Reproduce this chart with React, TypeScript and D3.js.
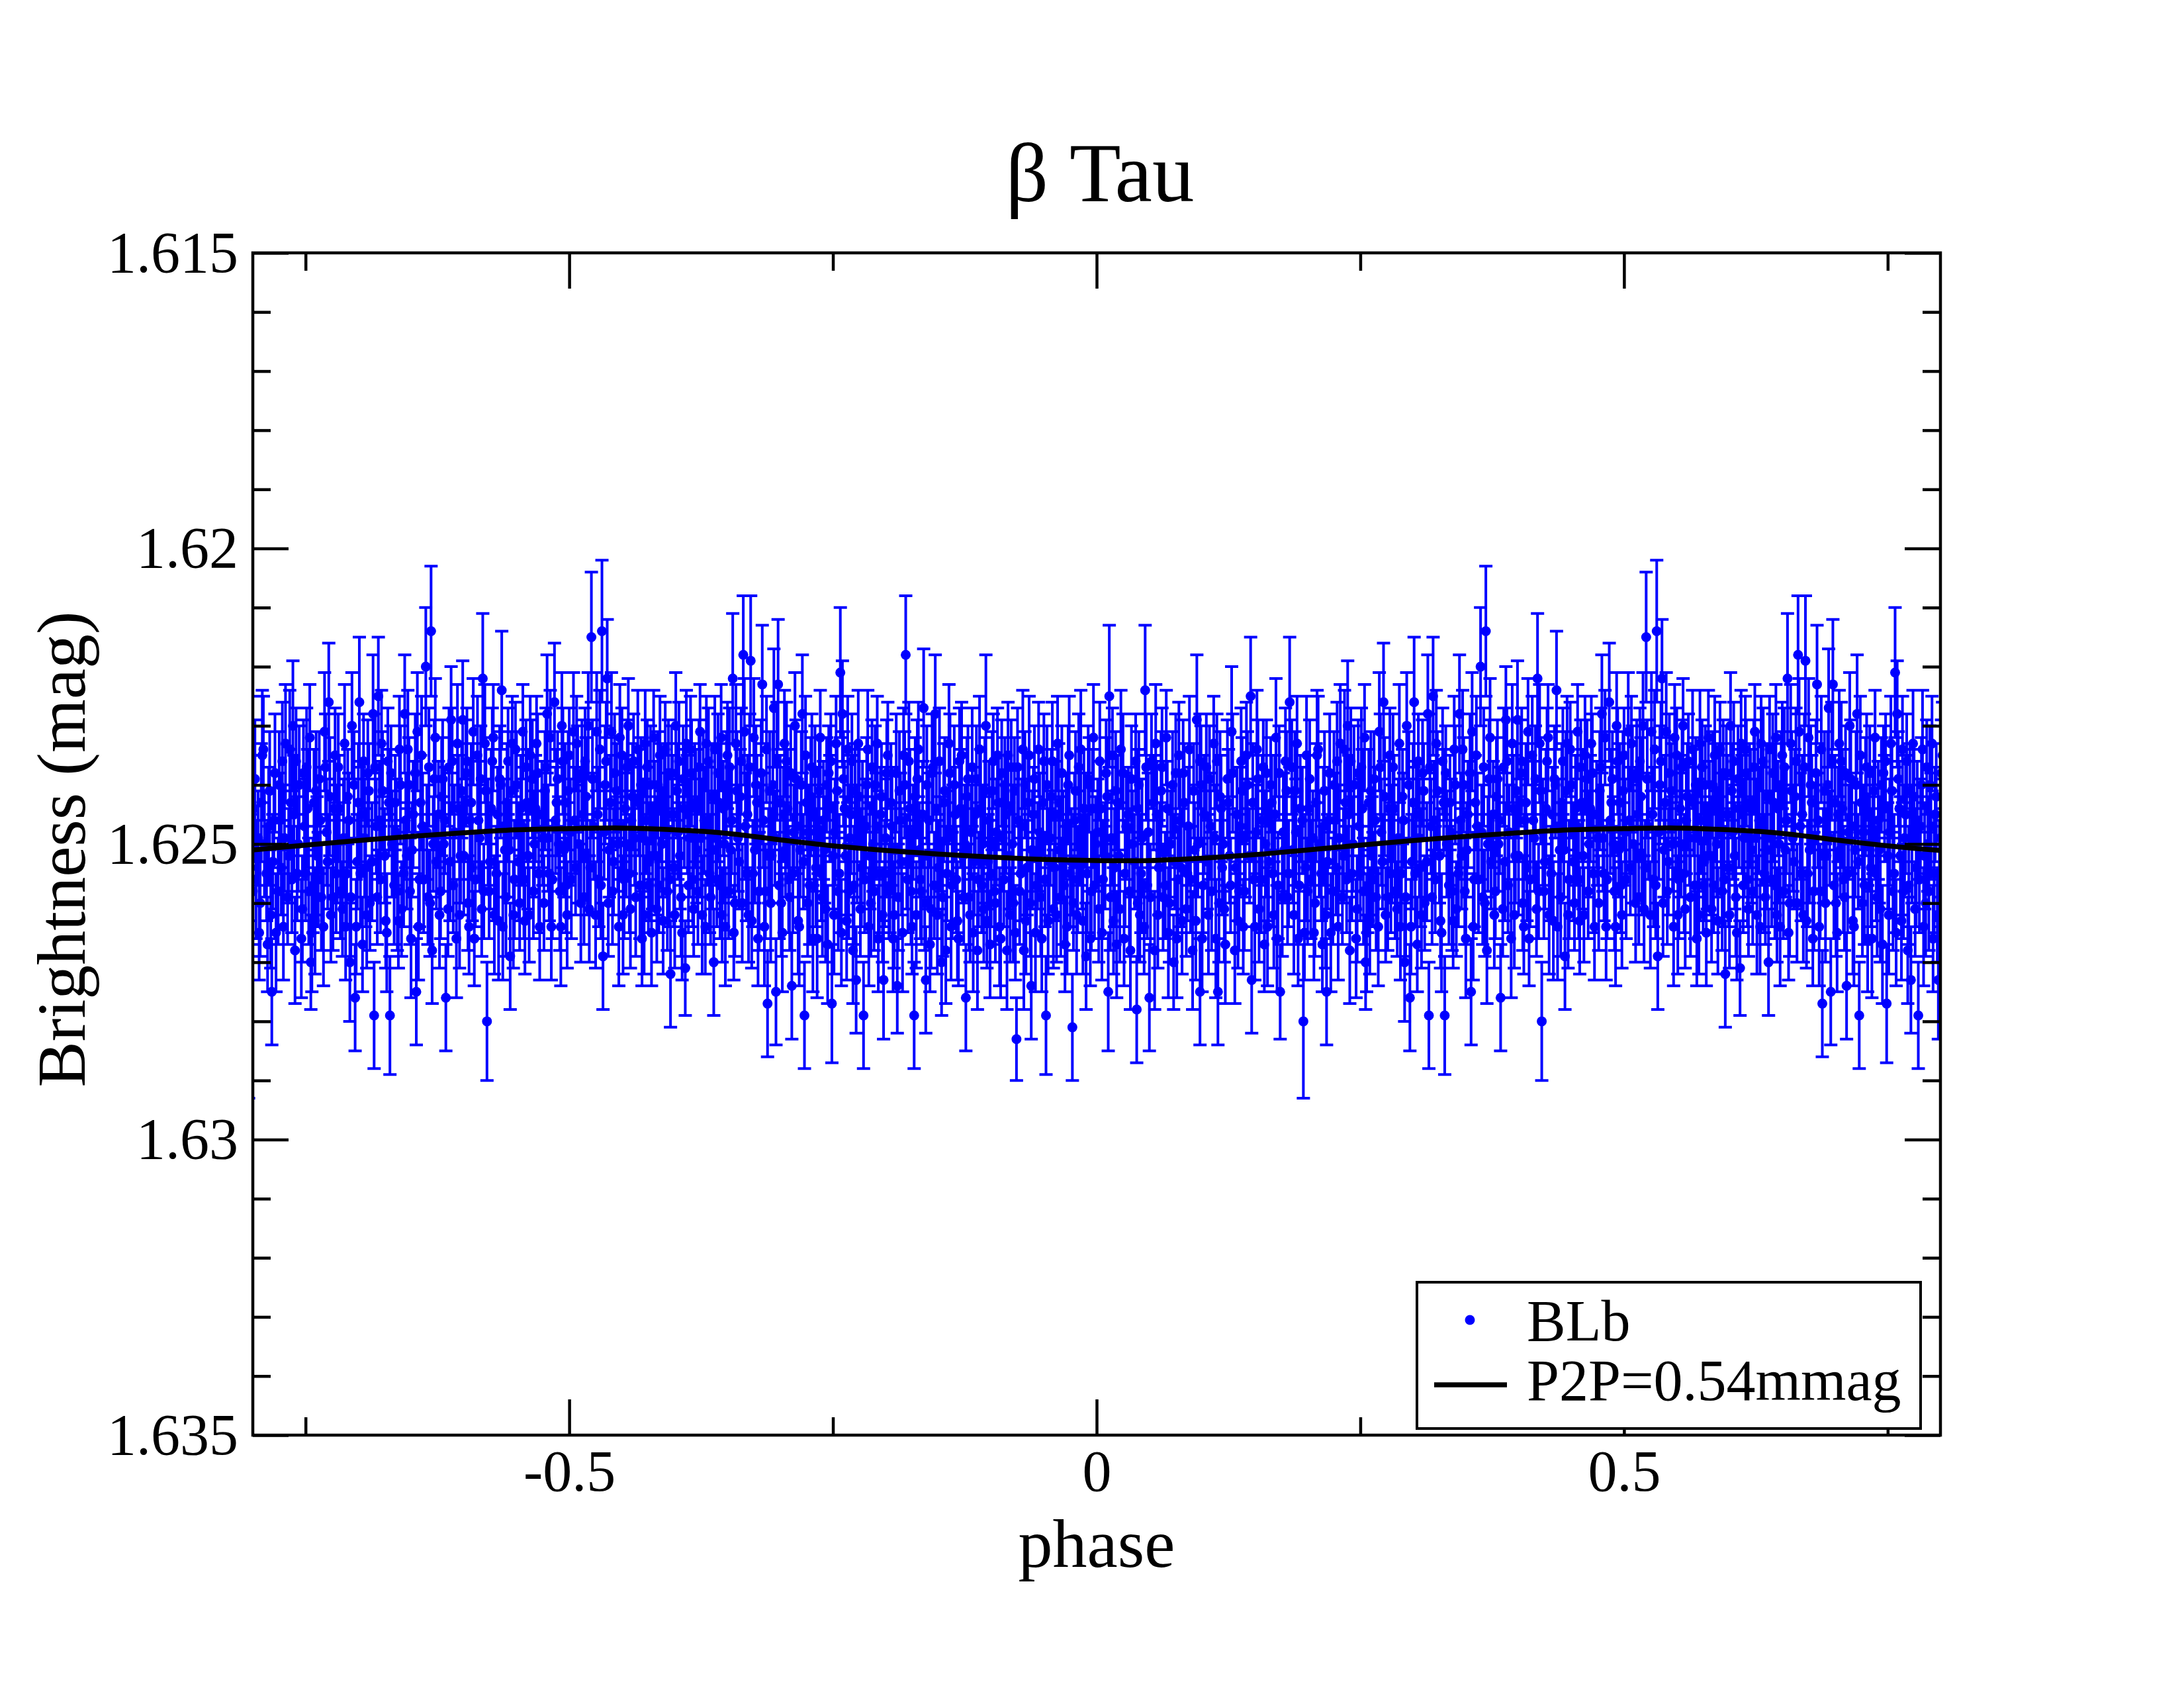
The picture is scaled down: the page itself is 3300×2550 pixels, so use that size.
import React, { useEffect, useRef } from "react";
import * as d3 from "d3";

const title = "β Tau";
const xLabel = "phase";
const yLabel = "Brightness (mag)";
const legendLabels = ["BLb", "P2P=0.54mmag"];

const xMajorTicks = [-0.5, 0, 0.5];
const xMajorLabels = ["-0.5", "0", "0.5"];
const xMinorTicks = [-0.75, -0.25, 0.25, 0.75];
const yMajorTicks = [1.615, 1.62, 1.625, 1.63, 1.635];
const yMajorLabels = ["1.615", "1.62", "1.625", "1.63", "1.635"];
const yMinorTicks = [
  1.616, 1.617, 1.618, 1.619, 1.621, 1.622, 1.623, 1.624, 1.626, 1.627, 1.628,
  1.629, 1.631, 1.632, 1.633, 1.634,
];

// fitted light curve over one cycle
const fitPhase = [
  0, 0.05, 0.1, 0.15, 0.2, 0.25, 0.3, 0.35, 0.4, 0.45, 0.5, 0.55, 0.6, 0.65,
  0.7, 0.75, 0.8, 0.85, 0.9, 0.95, 1.0,
];
const fitMag = [
  1.62528, 1.62528, 1.62524, 1.62518, 1.6251, 1.62502, 1.62494, 1.62487,
  1.62481, 1.62476, 1.62474, 1.62473, 1.62476, 1.62482, 1.62493, 1.62503,
  1.62511, 1.62517, 1.62522, 1.62526, 1.62528,
];

// BLb observations: [phase, magnitude, error in mmag]
const blbSet1: [number, number, number][] = [
  [0.002,1.6261,0.9],[0.004,1.6244,0.8],[0.006,1.6256,1.0],[0.009,1.6238,0.9],[0.011,1.6275,1.0],[0.012,1.6225,1.2],[0.014,1.6249,0.8],[0.016,1.6263,0.9],[0.018,1.6241,1.0],
  [0.021,1.6252,0.9],[0.023,1.6234,1.0],[0.026,1.6266,0.8],[0.028,1.6247,0.9],[0.031,1.6258,1.1],[0.033,1.6239,0.9],[0.036,1.6253,0.8],[0.038,1.6278,0.9],[0.039,1.6244,1.0],
  [0.041,1.6262,0.8],[0.043,1.6249,1.0],[0.046,1.6224,1.1],[0.048,1.6257,0.9],[0.050,1.6276,0.9],[0.052,1.6236,0.8],[0.055,1.6268,1.0],[0.057,1.6245,0.9],[0.059,1.6254,0.8],
  [0.061,1.6241,1.0],[0.063,1.6259,0.9],[0.066,1.6232,0.8],[0.068,1.6265,1.1],[0.070,1.6250,0.9],[0.073,1.6270,0.8],[0.075,1.6238,1.0],[0.077,1.6256,0.9],[0.079,1.6246,0.8],
  [0.081,1.6263,0.9],[0.083,1.6243,1.0],[0.086,1.6255,0.8],[0.088,1.6234,0.9],[0.091,1.6268,1.0],[0.093,1.6251,0.8],[0.095,1.6229,1.1],[0.098,1.6275,0.9],[0.099,1.6240,1.0],
  [0.101,1.6257,0.8],[0.104,1.6237,0.9],[0.106,1.6262,1.0],[0.108,1.6247,0.9],[0.111,1.6233,0.8],[0.113,1.6266,1.0],[0.115,1.6275,0.9],[0.117,1.6242,1.1],[0.119,1.6254,0.8],
  [0.121,1.6261,0.9],[0.124,1.6239,1.0],[0.126,1.6252,0.8],[0.128,1.6231,1.1],[0.131,1.6268,0.9],[0.133,1.6245,0.8],[0.135,1.6258,1.0],[0.137,1.6236,0.9],[0.139,1.6264,0.8],
  [0.141,1.6249,1.0],[0.143,1.6240,0.9],[0.146,1.6225,1.0],[0.147,1.6273,0.9],[0.149,1.6256,0.8],[0.152,1.6234,1.0],[0.154,1.6261,0.9],[0.157,1.6246,1.1],[0.159,1.6267,0.8],
  [0.161,1.6238,0.9],[0.163,1.6253,1.0],[0.166,1.6243,0.8],[0.168,1.6262,0.9],[0.170,1.6232,1.0],[0.172,1.6257,0.9],[0.174,1.6275,0.8],[0.177,1.6248,1.0],[0.179,1.6236,0.9],
  [0.181,1.6259,0.8],[0.183,1.6226,1.1],[0.186,1.6251,0.9],[0.188,1.6241,1.0],[0.191,1.6266,0.8],[0.193,1.6244,0.9],[0.196,1.6280,1.3],[0.198,1.6254,0.9],[0.199,1.6235,1.0],
  [0.201,1.6244,0.9],[0.203,1.6256,1.0],[0.206,1.6265,0.8],[0.209,1.6235,1.1],[0.211,1.6250,0.9],[0.214,1.6267,0.8],[0.216,1.6241,1.0],[0.218,1.6275,0.9],[0.219,1.6253,0.8],
  [0.221,1.6238,1.0],[0.224,1.6258,0.9],[0.226,1.6246,0.8],[0.229,1.6264,0.9],[0.231,1.6233,1.0],[0.234,1.6252,0.8],[0.236,1.6243,0.9],[0.238,1.6230,1.1],[0.240,1.6268,0.9],
  [0.242,1.6255,0.8],[0.244,1.6240,1.0],[0.247,1.6261,0.9],[0.249,1.6247,0.8],[0.251,1.6237,1.0],[0.253,1.6258,0.9],[0.255,1.6270,0.8],[0.256,1.6265,1.0],[0.258,1.6243,0.9],
  [0.261,1.6252,1.0],[0.263,1.6239,0.8],[0.265,1.6259,0.9],[0.268,1.6231,1.0],[0.270,1.6248,0.9],[0.272,1.6226,1.0],[0.274,1.6262,0.8],[0.277,1.6244,0.9],[0.279,1.6255,1.0],
  [0.281,1.6237,0.9],[0.283,1.6258,0.8],[0.286,1.6249,1.0],[0.288,1.6264,0.9],[0.290,1.6242,0.8],[0.292,1.6270,1.0],[0.294,1.6230,0.9],[0.297,1.6276,0.9],[0.299,1.6253,0.8],
  [0.301,1.6226,1.1],[0.303,1.6245,0.9],[0.304,1.6267,0.8],[0.307,1.6254,1.0],[0.309,1.6238,0.9],[0.311,1.6260,0.8],[0.314,1.6228,1.0],[0.315,1.6279,0.9],[0.317,1.6247,0.8],[0.319,1.6225,1.0],
  [0.321,1.6256,0.9],[0.323,1.6241,1.0],[0.326,1.6263,0.8],[0.328,1.6236,0.9],[0.330,1.6279,1.0],[0.332,1.6250,0.9],[0.335,1.6243,0.8],[0.337,1.6258,1.0],[0.339,1.6234,0.9],
  [0.341,1.6261,0.8],[0.344,1.6228,1.0],[0.346,1.6252,0.9],[0.348,1.6240,0.8],[0.350,1.6266,1.0],[0.352,1.6245,0.9],[0.355,1.6275,0.9],[0.356,1.6231,1.0],[0.358,1.6256,0.8],
  [0.361,1.6247,0.9],[0.364,1.6220,1.0],[0.366,1.6259,0.8],[0.369,1.6214,1.1],[0.370,1.6268,0.9],[0.372,1.6239,1.0],[0.374,1.6253,0.8],[0.377,1.6262,0.9],[0.379,1.6242,1.0],
  [0.381,1.6250,0.8],[0.383,1.6276,0.9],[0.386,1.6237,1.0],[0.388,1.6229,0.9],[0.390,1.6257,0.8],[0.393,1.6266,1.0],[0.395,1.6244,0.9],[0.397,1.6252,0.8],[0.399,1.6229,1.0],
  [0.402,1.6238,0.9],[0.404,1.6260,0.8],[0.406,1.6246,1.0],[0.408,1.6254,0.9],[0.410,1.6266,0.8],[0.413,1.6235,1.0],[0.415,1.6249,0.9],[0.418,1.6222,1.1],[0.419,1.6258,0.8],
  [0.421,1.6241,0.9],[0.422,1.6280,1.0],[0.425,1.6253,0.8],[0.427,1.6236,0.9],[0.429,1.6262,1.0],[0.432,1.6245,0.8],[0.434,1.6239,0.9],[0.436,1.6224,1.0],[0.437,1.6264,0.9],[0.439,1.6251,0.8],
  [0.441,1.6243,1.0],[0.444,1.6269,0.9],[0.446,1.6233,0.8],[0.448,1.6256,1.0],[0.450,1.6240,0.9],[0.453,1.6260,0.8],[0.455,1.6247,1.0],[0.458,1.6263,0.9],[0.459,1.6237,0.8],
  [0.461,1.6252,0.9],[0.463,1.6235,1.0],[0.466,1.6258,0.8],[0.468,1.6244,0.9],[0.470,1.6238,1.0],[0.472,1.6264,0.9],[0.475,1.6249,0.8],[0.477,1.6241,1.0],[0.479,1.6228,1.0],
  [0.481,1.6255,0.8],[0.483,1.6264,0.9],[0.486,1.6226,1.0],[0.488,1.6243,0.9],[0.490,1.6250,0.8],[0.492,1.6264,1.0],[0.494,1.6236,0.9],[0.497,1.6257,0.8],[0.499,1.6241,1.0],
  [0.501,1.6248,0.9],[0.504,1.6231,1.0],[0.506,1.6254,0.8],[0.508,1.6239,0.9],[0.511,1.6260,1.0],[0.513,1.6245,0.8],[0.515,1.6236,0.9],[0.517,1.6252,1.0],[0.519,1.6261,0.9],
  [0.521,1.6215,1.1],[0.523,1.6247,0.9],[0.526,1.6231,1.0],[0.528,1.6256,0.8],[0.531,1.6214,1.2],[0.532,1.6269,0.9],[0.534,1.6240,1.0],[0.536,1.6222,1.0],[0.538,1.6251,0.8],
  [0.541,1.6258,0.9],[0.543,1.6238,1.0],[0.546,1.6250,0.8],[0.548,1.6232,0.9],[0.551,1.6262,1.0],[0.553,1.6244,0.9],[0.555,1.6237,0.8],[0.557,1.6255,1.0],[0.559,1.6246,0.9],
  [0.561,1.6236,0.8],[0.563,1.6259,1.0],[0.566,1.6243,0.9],[0.569,1.6266,0.8],[0.570,1.6249,1.0],[0.572,1.6233,0.9],[0.575,1.6257,0.8],[0.577,1.6240,1.0],[0.579,1.6252,0.9],
  [0.581,1.6244,0.8],[0.583,1.6261,0.9],[0.586,1.6235,1.0],[0.588,1.6250,0.9],[0.590,1.6241,0.8],[0.593,1.6258,1.0],[0.596,1.6272,0.9],[0.597,1.6238,0.8],[0.599,1.6254,1.0],
  [0.601,1.6230,0.9],[0.603,1.6248,0.8],[0.606,1.6259,1.0],[0.608,1.6239,0.9],[0.610,1.6271,0.8],[0.612,1.6245,1.0],[0.615,1.6234,0.9],[0.617,1.6256,0.8],[0.619,1.6243,1.0],
  [0.621,1.6251,0.9],[0.623,1.6237,0.8],[0.626,1.6262,1.0],[0.628,1.6246,0.9],[0.630,1.6233,0.8],[0.633,1.6255,1.0],[0.635,1.6242,0.9],[0.637,1.6270,0.9],[0.639,1.6249,0.8],
  [0.641,1.6238,1.0],[0.643,1.6257,0.9],[0.646,1.6244,0.8],[0.648,1.6264,1.0],[0.650,1.6235,0.9],[0.653,1.6251,0.8],[0.655,1.6222,1.1],[0.657,1.6260,0.9],[0.659,1.6241,1.0],
  [0.661,1.6253,0.8],[0.663,1.6236,0.9],[0.665,1.6218,1.0],[0.667,1.6247,0.9],[0.670,1.6262,0.8],[0.672,1.6219,1.1],[0.674,1.6255,0.9],[0.677,1.6240,1.0],[0.679,1.6266,0.8],
  [0.681,1.6249,0.9],[0.683,1.6223,1.0],[0.686,1.6258,0.8],[0.688,1.6277,0.9],[0.690,1.6241,1.0],[0.692,1.6252,0.8],[0.694,1.6227,1.0],[0.696,1.6275,0.9],[0.698,1.6223,1.1],
  [0.701,1.6260,0.9],[0.703,1.6245,0.8],[0.706,1.6236,1.0],[0.708,1.6256,0.9],[0.711,1.6274,0.9],[0.713,1.6248,0.8],[0.715,1.6239,1.0],[0.717,1.6263,0.9],[0.719,1.6251,0.8],
  [0.721,1.6228,1.0],[0.723,1.6279,0.9],[0.725,1.6243,0.8],[0.728,1.6257,1.0],[0.730,1.6237,0.9],[0.732,1.6250,0.8],[0.735,1.6266,1.0],[0.737,1.6241,0.9],[0.739,1.6255,0.8],
  [0.741,1.6246,1.0],[0.743,1.6261,0.9],[0.746,1.6238,0.8],[0.749,1.6277,1.0],[0.750,1.6252,0.9],[0.753,1.6233,0.8],[0.755,1.6258,1.0],[0.757,1.6221,1.1],[0.759,1.6228,0.9],
  [0.761,1.6244,0.8],[0.763,1.6263,1.0],[0.766,1.6249,0.9],[0.768,1.6236,0.8],[0.770,1.6257,1.0],[0.772,1.6273,0.9],[0.775,1.6242,0.8],[0.777,1.6254,1.0],[0.779,1.6279,0.9],
  [0.781,1.6247,0.8],[0.783,1.6234,1.0],[0.786,1.6260,0.9],[0.788,1.6250,0.8],[0.790,1.6240,1.0],[0.793,1.6266,0.9],[0.795,1.6245,0.8],[0.798,1.6273,1.0],[0.799,1.6255,0.9],
  [0.801,1.6238,0.9],[0.803,1.6258,0.8],[0.806,1.6247,1.0],[0.808,1.6262,0.9],[0.811,1.6274,0.8],[0.813,1.6241,1.0],[0.815,1.6253,0.9],[0.817,1.6235,0.8],[0.819,1.6218,1.0],
  [0.821,1.6256,0.9],[0.823,1.6244,1.0],[0.825,1.6264,0.8],[0.827,1.6279,0.9],[0.830,1.6239,1.0],[0.832,1.6251,0.8],[0.834,1.6258,0.9],[0.836,1.6227,1.0],[0.838,1.6273,0.9],
  [0.841,1.6246,0.8],[0.843,1.6261,1.0],[0.845,1.6237,0.9],[0.847,1.6228,1.0],[0.850,1.6254,0.8],[0.853,1.6270,0.9],[0.855,1.6243,1.0],[0.857,1.6268,0.9],[0.859,1.6249,0.8],
  [0.861,1.6238,1.0],[0.863,1.6257,0.9],[0.866,1.6245,0.8],[0.868,1.6263,1.0],[0.870,1.6236,0.9],[0.873,1.6252,0.8],[0.876,1.6276,0.9],[0.877,1.6242,1.0],[0.879,1.6259,0.9],
  [0.881,1.6248,0.8],[0.883,1.6265,1.0],[0.886,1.6239,0.9],[0.888,1.6256,0.8],[0.890,1.6244,1.0],[0.893,1.6261,0.9],[0.895,1.6230,1.2],[0.897,1.6253,0.8],[0.899,1.6267,0.9],
  [0.901,1.6241,1.0],[0.903,1.6258,0.9],[0.906,1.6235,0.8],[0.908,1.6264,1.0],[0.911,1.6249,0.9],[0.913,1.6240,0.8],[0.915,1.6268,1.0],[0.917,1.6252,0.9],[0.919,1.6237,0.8],
  [0.921,1.6260,1.0],[0.924,1.6283,0.7],[0.926,1.6246,0.9],[0.928,1.6255,0.8],[0.930,1.6234,1.0],[0.933,1.6263,0.9],[0.935,1.6243,0.8],[0.938,1.6274,0.9],[0.939,1.6251,1.0],
  [0.941,1.6239,0.9],[0.943,1.6257,0.8],[0.946,1.6248,1.0],[0.948,1.6266,0.9],[0.950,1.6236,0.8],[0.952,1.6279,1.0],[0.955,1.6253,0.9],[0.957,1.6242,0.8],[0.959,1.6261,1.0],
  [0.961,1.6245,0.9],[0.963,1.6233,0.8],[0.966,1.6259,1.0],[0.968,1.6250,0.9],[0.970,1.6267,0.8],[0.973,1.6240,1.0],[0.975,1.6255,0.9],[0.977,1.6281,0.9],[0.979,1.6246,0.8],
  [0.981,1.6262,1.0],[0.983,1.6237,0.9],[0.986,1.6253,0.8],[0.988,1.6244,1.0],[0.990,1.6269,0.9],[0.993,1.6240,0.8],[0.995,1.6258,1.0],[0.997,1.6232,0.9],[0.999,1.6250,0.8],
];

const blbSet2: [number, number, number][] = [
  [0.001,1.6248,0.9],[0.003,1.6236,1.0],[0.005,1.6265,0.8],[0.008,1.6252,0.9],[0.010,1.6242,1.0],[0.013,1.6259,0.9],[0.015,1.6235,0.8],[0.017,1.6254,1.0],[0.019,1.6267,0.9],
  [0.020,1.6243,0.8],[0.022,1.6261,0.9],[0.025,1.6238,1.0],[0.027,1.6255,0.9],[0.030,1.6245,0.8],[0.032,1.6268,1.0],[0.034,1.6250,0.9],[0.037,1.6236,0.8],[0.039,1.6260,1.0],
  [0.040,1.6240,0.9],[0.042,1.6255,1.0],[0.045,1.6264,0.8],[0.047,1.6237,0.9],[0.049,1.6248,1.0],[0.051,1.6259,0.9],[0.054,1.6243,0.8],[0.056,1.6233,1.0],[0.058,1.6262,0.9],
  [0.060,1.6251,0.8],[0.062,1.6237,1.0],[0.065,1.6257,0.9],[0.067,1.6244,0.8],[0.069,1.6260,1.0],[0.072,1.6240,0.9],[0.074,1.6253,0.8],[0.076,1.6266,1.0],[0.078,1.6235,0.9],
  [0.080,1.6254,1.0],[0.082,1.6238,0.9],[0.085,1.6261,0.8],[0.087,1.6247,1.0],[0.089,1.6256,0.9],[0.092,1.6241,0.8],[0.094,1.6263,1.0],[0.096,1.6250,0.9],[0.098,1.6236,0.8],
  [0.100,1.6266,0.9],[0.102,1.6245,1.0],[0.105,1.6253,0.8],[0.107,1.6239,0.9],[0.109,1.6258,1.0],[0.112,1.6249,0.9],[0.114,1.6236,0.8],[0.116,1.6260,1.0],[0.118,1.6244,0.9],
  [0.120,1.6250,0.8],[0.122,1.6267,1.0],[0.125,1.6243,0.9],[0.127,1.6257,0.8],[0.129,1.6238,1.0],[0.132,1.6254,0.9],[0.134,1.6263,0.8],[0.136,1.6247,1.0],[0.138,1.6241,0.9],
  [0.140,1.6258,1.0],[0.142,1.6235,0.9],[0.145,1.6252,0.8],[0.148,1.6243,1.0],[0.150,1.6264,0.9],[0.151,1.6248,0.8],[0.153,1.6239,1.0],[0.156,1.6256,0.9],[0.158,1.6237,0.8],
  [0.160,1.6250,0.9],[0.162,1.6264,1.0],[0.165,1.6240,0.8],[0.167,1.6255,0.9],[0.169,1.6245,1.0],[0.171,1.6266,0.9],[0.173,1.6238,0.8],[0.176,1.6259,1.0],[0.178,1.6251,0.9],
  [0.180,1.6241,1.0],[0.182,1.6255,0.9],[0.185,1.6237,0.8],[0.187,1.6262,1.0],[0.189,1.6248,0.9],[0.190,1.6233,0.8],[0.192,1.6257,1.0],[0.195,1.6246,0.9],[0.197,1.6265,0.8],
  [0.200,1.6258,0.9],[0.202,1.6239,1.0],[0.205,1.6249,0.8],[0.207,1.6260,0.9],[0.208,1.6243,1.0],[0.210,1.6234,0.9],[0.213,1.6255,0.8],[0.215,1.6247,1.0],[0.217,1.6262,0.9],
  [0.220,1.6246,0.8],[0.222,1.6265,1.0],[0.225,1.6240,0.9],[0.227,1.6254,0.8],[0.228,1.6236,1.0],[0.230,1.6249,0.9],[0.233,1.6259,0.8],[0.235,1.6234,1.0],[0.237,1.6256,0.9],
  [0.239,1.6245,1.0],[0.241,1.6236,0.9],[0.243,1.6250,0.8],[0.246,1.6266,1.0],[0.248,1.6238,0.9],[0.250,1.6255,0.8],[0.252,1.6244,1.0],[0.254,1.6232,0.9],[0.257,1.6257,0.8],
  [0.259,1.6263,0.9],[0.260,1.6241,1.0],[0.262,1.6256,0.8],[0.264,1.6246,0.9],[0.267,1.6264,1.0],[0.269,1.6237,0.9],[0.271,1.6253,0.8],[0.273,1.6242,1.0],[0.276,1.6259,0.9],
  [0.278,1.6235,0.8],[0.280,1.6250,1.0],[0.282,1.6244,0.9],[0.285,1.6261,0.8],[0.287,1.6233,1.0],[0.289,1.6255,0.9],[0.291,1.6246,0.8],[0.293,1.6259,1.0],[0.296,1.6240,0.9],
  [0.298,1.6264,0.8],[0.300,1.6243,1.0],[0.302,1.6255,0.9],[0.305,1.6236,0.8],[0.306,1.6249,1.0],[0.308,1.6262,0.9],[0.310,1.6241,0.8],[0.313,1.6253,1.0],[0.316,1.6237,0.9],
  [0.318,1.6259,0.8],[0.320,1.6246,1.0],[0.322,1.6233,0.9],[0.325,1.6252,0.8],[0.327,1.6265,1.0],[0.329,1.6243,0.9],[0.331,1.6238,0.8],[0.334,1.6257,1.0],[0.336,1.6248,0.9],
  [0.338,1.6263,0.8],[0.340,1.6240,1.0],[0.343,1.6255,0.9],[0.345,1.6246,0.8],[0.347,1.6234,1.0],[0.349,1.6258,0.9],[0.351,1.6251,0.8],[0.354,1.6238,1.0],[0.357,1.6264,0.9],
  [0.359,1.6243,0.8],[0.360,1.6235,1.0],[0.362,1.6256,0.9],[0.365,1.6248,0.8],[0.367,1.6237,1.0],[0.368,1.6260,0.9],[0.371,1.6250,0.8],[0.373,1.6232,1.0],[0.376,1.6245,0.9],
  [0.378,1.6258,0.8],[0.380,1.6239,1.0],[0.382,1.6246,0.9],[0.385,1.6261,0.8],[0.387,1.6253,1.0],[0.389,1.6236,0.9],[0.391,1.6248,0.8],[0.394,1.6233,1.0],[0.396,1.6262,0.9],
  [0.398,1.6241,0.8],[0.400,1.6252,1.0],[0.403,1.6236,0.9],[0.405,1.6264,0.8],[0.407,1.6243,1.0],[0.409,1.6231,0.9],[0.411,1.6256,0.8],[0.414,1.6246,1.0],[0.416,1.6239,0.9],
  [0.417,1.6261,0.8],[0.420,1.6233,1.0],[0.423,1.6248,0.9],[0.424,1.6258,0.8],[0.426,1.6244,1.0],[0.428,1.6232,0.9],[0.431,1.6255,0.8],[0.433,1.6263,1.0],[0.435,1.6240,0.9],
  [0.438,1.6247,0.8],[0.440,1.6259,1.0],[0.442,1.6236,0.9],[0.443,1.6251,0.8],[0.445,1.6241,1.0],[0.447,1.6262,0.9],[0.449,1.6234,0.8],[0.452,1.6253,1.0],[0.454,1.6244,0.9],
  [0.456,1.6231,0.8],[0.457,1.6256,1.0],[0.460,1.6243,0.9],[0.462,1.6262,0.8],[0.465,1.6239,1.0],[0.467,1.6250,0.9],[0.469,1.6233,0.8],[0.471,1.6255,1.0],[0.474,1.6245,0.9],
  [0.476,1.6260,0.8],[0.478,1.6237,1.0],[0.480,1.6249,0.9],[0.482,1.6232,0.8],[0.484,1.6256,1.0],[0.487,1.6246,0.9],[0.489,1.6239,0.8],[0.491,1.6258,1.0],[0.493,1.6230,0.9],
  [0.495,1.6251,0.8],[0.496,1.6243,1.0],[0.498,1.6262,0.9],[0.500,1.6235,0.8],[0.502,1.6256,1.0],[0.505,1.6246,0.9],[0.507,1.6233,0.8],[0.509,1.6250,1.0],[0.512,1.6238,0.9],
  [0.514,1.6259,0.8],[0.516,1.6242,1.0],[0.518,1.6230,0.9],[0.520,1.6254,0.8],[0.522,1.6239,1.0],[0.525,1.6262,0.9],[0.527,1.6245,0.8],[0.529,1.6234,1.0],[0.530,1.6257,0.9],
  [0.533,1.6248,0.8],[0.535,1.6236,1.0],[0.537,1.6260,0.9],[0.539,1.6243,0.8],[0.540,1.6231,1.0],[0.542,1.6253,0.9],[0.545,1.6241,0.8],[0.547,1.6264,1.0],[0.549,1.6247,0.9],
  [0.550,1.6235,0.8],[0.552,1.6256,1.0],[0.554,1.6250,0.9],[0.556,1.6230,0.8],[0.558,1.6261,1.0],[0.560,1.6242,0.9],[0.562,1.6249,0.8],[0.565,1.6234,1.0],[0.567,1.6257,0.9],
  [0.568,1.6240,0.8],[0.571,1.6262,1.0],[0.573,1.6246,0.9],[0.574,1.6237,0.8],[0.576,1.6253,1.0],[0.578,1.6265,0.9],[0.580,1.6232,0.8],[0.582,1.6252,1.0],[0.584,1.6240,0.9],
  [0.585,1.6257,0.8],[0.587,1.6243,1.0],[0.589,1.6263,0.9],[0.591,1.6234,0.8],[0.592,1.6248,1.0],[0.594,1.6238,0.9],[0.595,1.6256,0.8],[0.598,1.6245,1.0],[0.600,1.6262,0.9],
  [0.602,1.6241,0.8],[0.604,1.6236,1.0],[0.605,1.6252,0.9],[0.607,1.6265,0.8],[0.609,1.6244,1.0],[0.611,1.6233,0.9],[0.613,1.6257,0.8],[0.614,1.6249,1.0],[0.616,1.6238,0.9],
  [0.618,1.6261,0.8],[0.620,1.6244,1.0],[0.622,1.6258,0.9],[0.624,1.6231,0.8],[0.625,1.6249,1.0],[0.627,1.6240,0.9],[0.629,1.6264,0.8],[0.631,1.6247,1.0],[0.632,1.6236,0.9],
  [0.634,1.6259,0.8],[0.636,1.6251,1.0],[0.638,1.6234,0.9],[0.640,1.6256,0.8],[0.642,1.6243,1.0],[0.644,1.6232,0.9],[0.645,1.6262,0.8],[0.647,1.6250,1.0],[0.649,1.6240,0.9],
  [0.651,1.6258,0.8],[0.652,1.6237,1.0],[0.654,1.6246,0.9],[0.656,1.6265,0.8],[0.658,1.6233,1.0],[0.660,1.6249,0.9],[0.662,1.6242,0.8],[0.664,1.6260,1.0],[0.666,1.6231,0.9],
  [0.668,1.6255,0.8],[0.669,1.6245,1.0],[0.671,1.6237,0.9],[0.673,1.6263,0.8],[0.675,1.6232,1.0],[0.676,1.6251,0.9],[0.678,1.6243,0.8],[0.680,1.6258,1.0],[0.682,1.6238,0.9],
  [0.684,1.6246,0.8],[0.685,1.6264,1.0],[0.687,1.6234,0.9],[0.689,1.6252,0.8],[0.691,1.6260,1.0],[0.693,1.6240,0.9],[0.695,1.6249,0.8],[0.697,1.6236,1.0],[0.699,1.6257,0.9],
  [0.700,1.6243,0.8],[0.702,1.6265,1.0],[0.704,1.6233,0.9],[0.705,1.6251,0.8],[0.707,1.6244,1.0],[0.709,1.6259,0.9],[0.710,1.6238,0.8],[0.712,1.6255,1.0],[0.714,1.6230,0.9],
  [0.716,1.6247,0.8],[0.718,1.6264,1.0],[0.720,1.6240,0.9],[0.722,1.6253,0.8],[0.724,1.6235,1.0],[0.726,1.6260,0.9],[0.727,1.6248,0.8],[0.729,1.6242,1.0],[0.731,1.6266,0.9],
  [0.733,1.6238,0.8],[0.734,1.6254,1.0],[0.736,1.6246,0.9],[0.738,1.6232,0.8],[0.740,1.6259,1.0],[0.742,1.6251,0.9],[0.744,1.6240,0.8],[0.745,1.6267,1.0],[0.747,1.6244,0.9],
  [0.748,1.6236,0.8],[0.751,1.6262,1.0],[0.752,1.6248,0.9],[0.754,1.6241,0.8],[0.756,1.6255,1.0],[0.758,1.6265,0.9],[0.760,1.6239,0.8],[0.762,1.6252,1.0],[0.764,1.6234,0.9],
  [0.765,1.6258,0.8],[0.767,1.6245,1.0],[0.769,1.6268,0.9],[0.771,1.6241,0.8],[0.773,1.6250,1.0],[0.774,1.6233,0.9],[0.776,1.6261,0.8],[0.778,1.6246,1.0],[0.780,1.6256,0.9],
  [0.782,1.6240,0.8],[0.784,1.6264,1.0],[0.785,1.6252,0.9],[0.787,1.6237,0.8],[0.789,1.6258,1.0],[0.791,1.6247,0.9],[0.792,1.6233,0.8],[0.794,1.6255,1.0],[0.796,1.6242,0.9],
  [0.797,1.6262,0.8],[0.800,1.6249,1.0],[0.802,1.6235,0.9],[0.804,1.6257,0.8],[0.805,1.6243,1.0],[0.807,1.6266,0.9],[0.809,1.6251,0.8],[0.810,1.6238,1.0],[0.812,1.6259,0.9],
  [0.814,1.6246,0.8],[0.816,1.6265,1.0],[0.818,1.6240,0.9],[0.820,1.6253,0.8],[0.822,1.6236,1.0],[0.824,1.6258,0.9],[0.826,1.6248,0.8],[0.828,1.6242,1.0],[0.829,1.6262,0.9],
  [0.831,1.6234,0.8],[0.833,1.6256,1.0],[0.835,1.6245,0.9],[0.837,1.6260,0.8],[0.839,1.6240,1.0],[0.840,1.6252,0.9],[0.842,1.6267,0.8],[0.844,1.6238,1.0],[0.846,1.6257,0.9],
  [0.848,1.6244,0.8],[0.849,1.6262,1.0],[0.851,1.6236,0.9],[0.852,1.6250,0.8],[0.854,1.6259,1.0],[0.856,1.6241,0.9],[0.858,1.6255,0.8],[0.860,1.6233,1.0],[0.862,1.6264,0.9],
  [0.864,1.6248,0.8],[0.865,1.6240,1.0],[0.867,1.6256,0.9],[0.869,1.6266,0.8],[0.871,1.6244,1.0],[0.872,1.6235,0.9],[0.874,1.6259,0.8],[0.875,1.6250,1.0],[0.878,1.6239,0.9],
  [0.880,1.6262,0.8],[0.882,1.6237,1.0],[0.884,1.6253,0.9],[0.885,1.6245,0.8],[0.887,1.6268,1.0],[0.889,1.6234,0.9],[0.891,1.6257,0.8],[0.892,1.6250,1.0],[0.894,1.6241,0.9],
  [0.896,1.6263,0.8],[0.898,1.6246,1.0],[0.900,1.6255,0.9],[0.902,1.6236,0.8],[0.904,1.6260,1.0],[0.905,1.6248,0.9],[0.907,1.6243,0.8],[0.909,1.6266,1.0],[0.910,1.6238,0.9],
  [0.912,1.6256,0.8],[0.914,1.6245,1.0],[0.916,1.6235,0.9],[0.918,1.6262,0.8],[0.920,1.6250,1.0],[0.922,1.6241,0.9],[0.923,1.6265,0.8],[0.925,1.6237,1.0],[0.927,1.6258,0.9],
  [0.929,1.6247,0.8],[0.931,1.6268,1.0],[0.932,1.6240,0.9],[0.934,1.6254,0.8],[0.936,1.6235,1.0],[0.937,1.6260,0.9],[0.940,1.6245,0.8],[0.942,1.6265,1.0],[0.944,1.6252,0.9],
  [0.945,1.6234,0.8],[0.947,1.6259,1.0],[0.949,1.6243,0.9],[0.951,1.6256,0.8],[0.953,1.6240,1.0],[0.954,1.6263,0.9],[0.956,1.6249,0.8],[0.958,1.6236,1.0],[0.960,1.6254,0.9],
  [0.962,1.6262,0.8],[0.964,1.6243,1.0],[0.965,1.6251,0.9],[0.967,1.6238,0.8],[0.969,1.6257,1.0],[0.971,1.6247,0.9],[0.972,1.6264,0.8],[0.974,1.6235,1.0],[0.976,1.6253,0.9],
  [0.978,1.6260,0.8],[0.980,1.6241,1.0],[0.982,1.6256,0.9],[0.984,1.6249,0.8],[0.985,1.6234,1.0],[0.987,1.6263,0.9],[0.989,1.6246,0.8],[0.991,1.6255,1.0],[0.992,1.6239,0.9],
  [0.994,1.6266,0.8],[0.996,1.6244,1.0],[0.998,1.6257,0.9],
];

const W = 3300;
const H = 2550;
const frame = { left: 382, right: 2932, top: 382, bottom: 2168 };
const FONT = "'Liberation Serif', 'Times New Roman', Times, serif";
const BLUE = "#0000ff";

const App: React.FC = () => {
  const svgRef = useRef<SVGSVGElement>(null);

  useEffect(() => {
    if (!svgRef.current) return;
    const svg = d3.select(svgRef.current);
    svg.selectAll("*").remove();

    const x = d3.scaleLinear().domain([-0.8, 0.8]).range([frame.left, frame.right]);
    const y = d3.scaleLinear().domain([1.615, 1.635]).range([frame.top, frame.bottom]);

    svg.append("rect").attr("width", W).attr("height", H).attr("fill", "white");

    svg
      .append("defs")
      .append("clipPath")
      .attr("id", "plot-clip")
      .append("rect")
      .attr("x", frame.left)
      .attr("y", frame.top)
      .attr("width", frame.right - frame.left)
      .attr("height", frame.bottom - frame.top);

    // phase-folded points are repeated one cycle either side
    const shown: { px: number; mag: number; err: number }[] = [];
    [...blbSet1, ...blbSet2].forEach(([p, mag, errMmag]) => {
      [-1, 0, 1].forEach((s) => {
        const px = p + s;
        if (px >= -0.82 && px <= 0.82) shown.push({ px, mag, err: errMmag / 1000 });
      });
    });

    const plot = svg.append("g").attr("clip-path", "url(#plot-clip)");

    // error bars
    const capHalf = 10;
    const bars = d3.path();
    shown.forEach((d) => {
      const cx = x(d.px);
      const y0 = y(d.mag - d.err);
      const y1 = y(d.mag + d.err);
      bars.moveTo(cx, y0);
      bars.lineTo(cx, y1);
      bars.moveTo(cx - capHalf, y0);
      bars.lineTo(cx + capHalf, y0);
      bars.moveTo(cx - capHalf, y1);
      bars.lineTo(cx + capHalf, y1);
    });
    plot
      .append("path")
      .attr("d", bars.toString())
      .attr("fill", "none")
      .attr("stroke", BLUE)
      .attr("stroke-width", 4);

    plot
      .append("g")
      .selectAll("circle")
      .data(shown)
      .join("circle")
      .attr("cx", (d) => x(d.px))
      .attr("cy", (d) => y(d.mag))
      .attr("r", 7.5)
      .attr("fill", BLUE);

    // fit curve
    const fitPts: [number, number][] = [];
    [-1, 0].forEach((s) => {
      fitPhase.forEach((p, i) => {
        const px = p + s;
        if (!fitPts.some((q) => Math.abs(q[0] - px) < 1e-9)) fitPts.push([px, fitMag[i]]);
      });
    });
    fitPts.sort((a, b) => a[0] - b[0]);
    const line = d3
      .line<[number, number]>()
      .x((d) => x(d[0]))
      .y((d) => y(d[1]))
      .curve(d3.curveCatmullRom);
    plot
      .append("path")
      .datum(fitPts)
      .attr("d", line)
      .attr("fill", "none")
      .attr("stroke", "black")
      .attr("stroke-width", 7.5);

    // axes: ticks inward on all four sides
    const styleAxis = (g: d3.Selection<SVGGElement, unknown, null, undefined>) => {
      g.select(".domain").remove();
      g.attr("font-family", FONT).attr("font-size", 88);
      g.selectAll("line").attr("stroke", "black").attr("stroke-width", 4.5);
      g.selectAll("text").attr("fill", "black");
    };

    svg
      .append("g")
      .attr("transform", `translate(${frame.left},0)`)
      .call(
        d3
          .axisLeft(y)
          .tickValues(yMajorTicks)
          .tickSize(-54)
          .tickSizeOuter(0)
          .tickPadding(22)
          .tickFormat((_, i) => yMajorLabels[i])
      )
      .call(styleAxis);
    svg
      .append("g")
      .attr("transform", `translate(${frame.left},0)`)
      .call(d3.axisLeft(y).tickValues(yMinorTicks).tickSize(-27).tickSizeOuter(0).tickFormat(() => ""))
      .call(styleAxis);
    svg
      .append("g")
      .attr("transform", `translate(${frame.right},0)`)
      .call(d3.axisRight(y).tickValues(yMajorTicks).tickSize(-54).tickSizeOuter(0).tickFormat(() => ""))
      .call(styleAxis);
    svg
      .append("g")
      .attr("transform", `translate(${frame.right},0)`)
      .call(d3.axisRight(y).tickValues(yMinorTicks).tickSize(-27).tickSizeOuter(0).tickFormat(() => ""))
      .call(styleAxis);

    svg
      .append("g")
      .attr("transform", `translate(0,${frame.bottom})`)
      .call(
        d3
          .axisBottom(x)
          .tickValues(xMajorTicks)
          .tickSize(-54)
          .tickSizeOuter(0)
          .tickPadding(22)
          .tickFormat((_, i) => xMajorLabels[i])
      )
      .call(styleAxis);
    svg
      .append("g")
      .attr("transform", `translate(0,${frame.bottom})`)
      .call(d3.axisBottom(x).tickValues(xMinorTicks).tickSize(-27).tickSizeOuter(0).tickFormat(() => ""))
      .call(styleAxis);
    svg
      .append("g")
      .attr("transform", `translate(0,${frame.top})`)
      .call(d3.axisTop(x).tickValues(xMajorTicks).tickSize(-54).tickSizeOuter(0).tickFormat(() => ""))
      .call(styleAxis);
    svg
      .append("g")
      .attr("transform", `translate(0,${frame.top})`)
      .call(d3.axisTop(x).tickValues(xMinorTicks).tickSize(-27).tickSizeOuter(0).tickFormat(() => ""))
      .call(styleAxis);

    svg
      .append("rect")
      .attr("x", frame.left)
      .attr("y", frame.top)
      .attr("width", frame.right - frame.left)
      .attr("height", frame.bottom - frame.top)
      .attr("fill", "none")
      .attr("stroke", "black")
      .attr("stroke-width", 4.5);

    // titles
    svg
      .append("text")
      .attr("x", (frame.left + frame.right) / 2 + 5)
      .attr("y", 304)
      .attr("text-anchor", "middle")
      .attr("font-family", FONT)
      .attr("font-size", 127)
      .text(title);
    svg
      .append("text")
      .attr("x", (frame.left + frame.right) / 2)
      .attr("y", 2367)
      .attr("text-anchor", "middle")
      .attr("font-family", FONT)
      .attr("font-size", 104)
      .text(xLabel);
    svg
      .append("text")
      .attr("transform", `translate(128,${(frame.top + frame.bottom) / 2 + 8}) rotate(-90)`)
      .attr("text-anchor", "middle")
      .attr("font-family", FONT)
      .attr("font-size", 104)
      .text(yLabel);

    // legend
    const lg = svg.append("g");
    lg.append("rect")
      .attr("x", 2141)
      .attr("y", 1937)
      .attr("width", 761)
      .attr("height", 221)
      .attr("fill", "white")
      .attr("stroke", "black")
      .attr("stroke-width", 4);
    lg.append("circle").attr("cx", 2221).attr("cy", 1994).attr("r", 7.5).attr("fill", BLUE);
    lg.append("line")
      .attr("x1", 2167)
      .attr("x2", 2277)
      .attr("y1", 2092)
      .attr("y2", 2092)
      .attr("stroke", "black")
      .attr("stroke-width", 7.5);
    lg.selectAll("text")
      .data(legendLabels)
      .join("text")
      .attr("x", 2307)
      .attr("y", (_, i) => (i === 0 ? 2025 : 2115))
      .attr("font-family", FONT)
      .attr("font-size", 88)
      .text((d) => d);
  }, []);

  return (
    <svg
      ref={svgRef}
      width={W}
      height={H}
      viewBox={`0 0 ${W} ${H}`}
      style={{ position: "absolute", left: 0, top: 0, display: "block" }}
    />
  );
};

export default App;
